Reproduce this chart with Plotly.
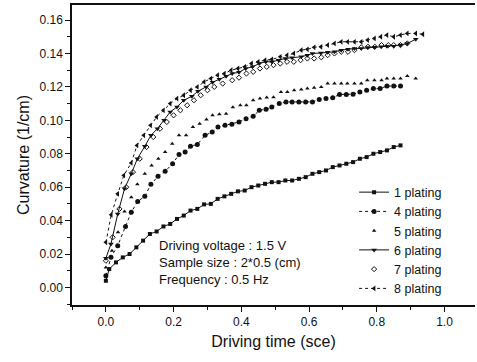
import plotly.graph_objects as go

# ---- data ----
x1 = [0, 0.01, 0.03, 0.05, 0.07, 0.09, 0.11, 0.13, 0.15, 0.17, 0.19, 0.21, 0.23, 0.25, 0.27, 0.29, 0.31, 0.33,
      0.35, 0.37, 0.39, 0.41, 0.43, 0.45, 0.47, 0.49, 0.51, 0.53, 0.55, 0.57, 0.59, 0.61, 0.63, 0.65, 0.67, 0.69,
      0.71, 0.73, 0.75, 0.77, 0.79, 0.81, 0.83, 0.85, 0.87]
y1 = [0.004, 0.011, 0.015, 0.018, 0.020, 0.024, 0.028, 0.032, 0.0335, 0.0365, 0.038, 0.041, 0.043, 0.046, 0.047,
      0.0497, 0.050, 0.053, 0.0545, 0.056, 0.0575, 0.058, 0.060, 0.061, 0.062, 0.063, 0.063, 0.064, 0.064, 0.065,
      0.066, 0.068, 0.069, 0.070, 0.072, 0.073, 0.074, 0.075, 0.077, 0.078, 0.080, 0.081, 0.082, 0.084, 0.085]

x4 = [0.0, 0.015, 0.035, 0.058, 0.075, 0.094, 0.115, 0.133, 0.154, 0.175, 0.197, 0.216, 0.234, 0.25, 0.27, 0.293,
      0.314, 0.331, 0.352, 0.372, 0.393, 0.414, 0.435, 0.453, 0.473, 0.49, 0.512, 0.532, 0.55, 0.57, 0.59, 0.61,
      0.63, 0.65, 0.67, 0.69, 0.71, 0.73, 0.75, 0.77, 0.79, 0.81, 0.83, 0.85, 0.87]
y4 = [0.007, 0.018, 0.025, 0.0365, 0.045, 0.0515, 0.0545, 0.0617, 0.0665, 0.0695, 0.074, 0.0795, 0.081, 0.0845,
      0.0856, 0.091, 0.093, 0.096, 0.097, 0.0976, 0.099, 0.101, 0.1024, 0.106, 0.1066, 0.108, 0.110, 0.111, 0.111,
      0.111, 0.111, 0.111, 0.1125, 0.113, 0.1135, 0.1155, 0.1155, 0.1156, 0.117, 0.118, 0.119, 0.119, 0.1205,
      0.1205, 0.1205]

x5 = [0.0, 0.018, 0.036, 0.055, 0.075, 0.093, 0.115, 0.135, 0.155, 0.175, 0.196, 0.216, 0.237, 0.257, 0.277, 0.297,
      0.315, 0.335, 0.355, 0.375, 0.397, 0.415, 0.435, 0.455, 0.475, 0.495, 0.517, 0.536, 0.556, 0.577, 0.595,
      0.615, 0.636, 0.655, 0.675, 0.695, 0.713, 0.734, 0.754, 0.772, 0.793, 0.814, 0.83, 0.85, 0.87, 0.89, 0.915]
y5 = [0.012, 0.022, 0.033, 0.0455, 0.054, 0.0617, 0.068, 0.073, 0.077, 0.081, 0.086, 0.091, 0.091, 0.096, 0.098,
      0.1005, 0.103, 0.1036, 0.104, 0.1078, 0.109, 0.109, 0.112, 0.113, 0.1137, 0.1138, 0.117, 0.117, 0.118,
      0.1185, 0.119, 0.1195, 0.120, 0.122, 0.122, 0.122, 0.122, 0.122, 0.122, 0.124, 0.124, 0.124, 0.125, 0.125,
      0.125, 0.1265, 0.125]

x6 = [0.0, 0.015, 0.035, 0.055, 0.075, 0.093, 0.115, 0.133, 0.152, 0.172, 0.19, 0.21, 0.23, 0.254, 0.272, 0.296,
      0.315, 0.335, 0.355, 0.373, 0.393, 0.413, 0.433, 0.453, 0.472, 0.49, 0.51, 0.53, 0.55, 0.577, 0.595, 0.61,
      0.635, 0.655, 0.675, 0.695, 0.715, 0.734, 0.754, 0.773, 0.793, 0.813, 0.83, 0.85, 0.87, 0.89, 0.915]
y6 = [0.0175, 0.026, 0.044, 0.059, 0.068, 0.077, 0.0845, 0.091, 0.095, 0.100, 0.105, 0.108, 0.112, 0.1144, 0.1174,
      0.120, 0.1228, 0.1245, 0.1264, 0.128, 0.1287, 0.131, 0.132, 0.134, 0.135, 0.135, 0.136, 0.137, 0.1375,
      0.138, 0.139, 0.140, 0.1403, 0.1407, 0.141, 0.142, 0.1425, 0.143, 0.143, 0.1435, 0.1437, 0.144, 0.1443,
      0.1443, 0.145, 0.146, 0.1485]

x7 = [0.0, 0.02, 0.04, 0.06, 0.08, 0.10, 0.12, 0.14, 0.16, 0.18, 0.20, 0.22, 0.24, 0.26, 0.28, 0.30, 0.32, 0.345,
      0.373, 0.393, 0.415, 0.435, 0.455, 0.475, 0.495, 0.515, 0.535, 0.555, 0.575, 0.595, 0.615, 0.636, 0.655,
      0.675, 0.695, 0.715, 0.734, 0.754, 0.774, 0.794, 0.814, 0.834, 0.85, 0.87, 0.89]
y7 = [0.016, 0.030, 0.047, 0.060, 0.069, 0.077, 0.084, 0.090, 0.095, 0.099, 0.103, 0.106, 0.109, 0.112, 0.115,
      0.118, 0.120, 0.122, 0.124, 0.1255, 0.128, 0.129, 0.131, 0.132, 0.133, 0.134, 0.135, 0.135, 0.136, 0.137,
      0.137, 0.1377, 0.139, 0.140, 0.141, 0.141, 0.142, 0.1437, 0.144, 0.144, 0.145, 0.145, 0.145, 0.145, 0.146]

x8 = [0.0, 0.016, 0.035, 0.053, 0.075, 0.092, 0.112, 0.132, 0.15, 0.17, 0.19, 0.21, 0.23, 0.25, 0.27, 0.29, 0.31,
      0.33, 0.35, 0.37, 0.39, 0.41, 0.43, 0.45, 0.47, 0.49, 0.515, 0.535, 0.555, 0.577, 0.595, 0.615, 0.635, 0.655,
      0.675, 0.695, 0.714, 0.734, 0.754, 0.773, 0.793, 0.812, 0.83, 0.85, 0.87, 0.89, 0.915, 0.936]
y8 = [0.027, 0.0435, 0.056, 0.067, 0.0745, 0.085, 0.091, 0.097, 0.102, 0.106, 0.110, 0.113, 0.115, 0.118, 0.120,
      0.123, 0.125, 0.127, 0.128, 0.130, 0.131, 0.132, 0.134, 0.135, 0.136, 0.1365, 0.138, 0.139, 0.140, 0.142,
      0.1425, 0.1437, 0.144, 0.145, 0.146, 0.147, 0.147, 0.147, 0.147, 0.148, 0.149, 0.150, 0.151, 0.150, 0.151,
      0.152, 0.152, 0.1515]

names = ["1 plating", "4 plating", "5 plating", "6 plating", "7 plating", "8 plating"]
x_ticks = [0.0, 0.2, 0.4, 0.6, 0.8, 1.0]
y_ticks = [0.00, 0.02, 0.04, 0.06, 0.08, 0.10, 0.12, 0.14, 0.16]
note_lines = ["Driving voltage : 1.5 V", "Sample size : 2*0.5 (cm)", "Frequency : 0.5 Hz"]

FONT = "Liberation Sans, Arial, sans-serif"
INK = "#111111"

fig = go.Figure()
styles = [
    dict(mode="lines+markers", marker=dict(symbol="square", size=4, color=INK), line=dict(color=INK, width=1)),
    dict(mode="lines+markers", marker=dict(symbol="circle", size=5, color=INK), line=dict(color=INK, width=1, dash="3px,3px")),
    dict(mode="markers", marker=dict(symbol="triangle-up", size=4, color=INK)),
    dict(mode="lines+markers", marker=dict(symbol="triangle-down", size=5, color=INK), line=dict(color=INK, width=1)),
    dict(mode="markers", marker=dict(symbol="diamond-open", size=4, color=INK, line=dict(width=1, color=INK))),
    dict(mode="lines+markers", marker=dict(symbol="triangle-left", size=5, color=INK), line=dict(color=INK, width=1, dash="3px,3px")),
]
data = [(x1, y1), (x4, y4), (x5, y5), (x6, y6), (x7, y7), (x8, y8)]
for (xs, ys), nm, st in zip(data, names, styles):
    fig.add_trace(go.Scatter(x=xs, y=ys, name=nm, **st))

fig.add_annotation(
    text="<br>".join(note_lines), xref="paper", yref="paper",
    x=0.211, y=0.143, xanchor="left", yanchor="middle", align="left",
    showarrow=False, font=dict(family=FONT, size=13, color=INK),
)

fig.update_layout(
    width=477, height=362,
    margin=dict(l=72, r=2, t=5, b=57),
    paper_bgcolor="white", plot_bgcolor="white",
    font=dict(family=FONT, color=INK),
    showlegend=True,
    legend=dict(x=0.70, y=0.425, xanchor="left", yanchor="top",
                bgcolor="rgba(0,0,0,0)", font=dict(family=FONT, size=12.5, color=INK),
                tracegroupgap=0, itemwidth=30),
)
fig.update_xaxes(
    range=[-0.1, 1.09], tickvals=x_ticks, ticktext=[f"{v:.1f}" for v in x_ticks],
    showgrid=False, zeroline=False, showline=True, linecolor=INK, linewidth=1.5, mirror=True,
    ticks="outside", ticklen=5, tickwidth=1, tickcolor=INK,
    minor=dict(dtick=0.1, ticks="outside", ticklen=3, tickcolor=INK, showgrid=False),
    tickfont=dict(family=FONT, size=12, color=INK),
    title=dict(text="Driving time (sce)", font=dict(family=FONT, size=16, color=INK), standoff=8),
)
fig.update_yaxes(
    range=[-0.0105, 0.169], tickvals=y_ticks, ticktext=[f"{v:.2f}" for v in y_ticks],
    showgrid=False, zeroline=False, showline=True, linecolor=INK, linewidth=1.5,
    ticks="outside", ticklen=5, tickwidth=1, tickcolor=INK,
    minor=dict(dtick=0.01, tick0=0, ticks="outside", ticklen=3, tickcolor=INK, showgrid=False),
    tickfont=dict(family=FONT, size=12, color=INK),
    title=dict(text="Curvature (1/cm)", font=dict(family=FONT, size=16, color=INK), standoff=6),
)

fig.write_html("out.html")
